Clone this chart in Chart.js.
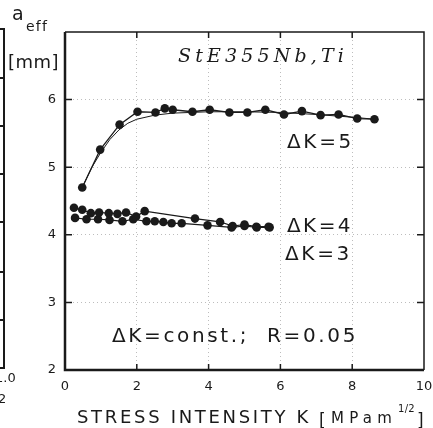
<!DOCTYPE html>
<html>
<head>
<meta charset="utf-8">
<script src="https://cdn.jsdelivr.net/npm/chart.js@4"></script>
<style>
body { margin: 0; background: #fff; }
canvas { display: block; }
</style>
</head>
<body>
<canvas id="myChart" width="433" height="428"></canvas>
<script>
/* values */
var xTicks = [0, 2, 4, 6, 8, 10];
var yTicks = [2, 3, 4, 5, 6];

// dK = 5, measured points
var k5X = [0.48, 0.98, 1.52, 2.02, 2.52, 2.78, 3.0, 3.55, 4.03, 4.58, 5.08, 5.58, 6.1, 6.6, 7.12, 7.62, 8.14, 8.62];
var k5Y = [4.70, 5.26, 5.63, 5.82, 5.81, 5.87, 5.85, 5.82, 5.85, 5.81, 5.81, 5.85, 5.78, 5.83, 5.77, 5.78, 5.72, 5.71];

// dK = 5, smooth curve drawn through them
var k5FitX = [0.48, 0.75, 1.0, 1.25, 1.5, 1.75, 2.0, 2.5, 3.0, 4.0, 5.0, 6.0, 7.0, 8.0, 8.62];
var k5FitY = [4.70, 5.00, 5.22, 5.41, 5.55, 5.65, 5.71, 5.77, 5.80, 5.82, 5.82, 5.81, 5.78, 5.74, 5.71];

// dK = 4
var k4X = [0.25, 0.48, 0.72, 0.95, 1.22, 1.46, 1.7, 1.98, 2.22, 3.62, 4.32, 4.67, 5.0, 5.33, 5.67];
var k4Y = [4.40, 4.37, 4.32, 4.33, 4.32, 4.31, 4.33, 4.27, 4.35, 4.24, 4.19, 4.13, 4.15, 4.12, 4.12];

// dK = 3
var k3X = [0.28, 0.6, 0.92, 1.24, 1.6, 1.9, 2.27, 2.5, 2.74, 2.97, 3.25, 3.97, 4.64, 5.0, 5.34, 5.7];
var k3Y = [4.25, 4.23, 4.23, 4.22, 4.20, 4.23, 4.20, 4.20, 4.19, 4.17, 4.17, 4.14, 4.11, 4.13, 4.11, 4.11];

var ink = '#1a1a1a';

/* pairs x and y lists into chart points */
function toPoints(xs, ys) {
  return xs.map(function(x, i) { return { x: x, y: ys[i] }; });
}

function dataSet(label, xs, ys, radius, width) {
  return {
    label: label,
    data: toPoints(xs, ys),
    showLine: true,
    borderColor: ink,
    backgroundColor: ink,
    borderWidth: width,
    pointRadius: radius,
    pointBorderWidth: 0,
    tension: 0
  };
}

/* draws text stretched to a given width with letter spacing */
function drawFit(ctx, text, x, y, width, font) {
  ctx.font = font;
  ctx.letterSpacing = '0px';
  var w = ctx.measureText(text).width;
  if (width && text.length > 1) {
    ctx.letterSpacing = ((width - w) / text.length) + 'px';
  }
  ctx.fillText(text, x, y);
  ctx.letterSpacing = '0px';
}

// white page behind everything
var background = {
  id: 'background',
  beforeDraw: function(chart) {
    var ctx = chart.ctx;
    ctx.save();
    ctx.fillStyle = '#fff';
    ctx.fillRect(0, 0, chart.width, chart.height);
    ctx.restore();
  }
};

// box, inward ticks, labels and the edge of the next panel
var frame = {
  id: 'frame',
  afterDraw: function(chart) {
    var ctx = chart.ctx;
    var a = chart.chartArea;
    var xs = chart.scales.x, ys = chart.scales.y;
    ctx.save();
    ctx.strokeStyle = ink;
    ctx.fillStyle = ink;

    // thin top and right
    ctx.lineWidth = 1.5;
    ctx.beginPath();
    ctx.moveTo(a.left, a.top); ctx.lineTo(a.right, a.top); ctx.lineTo(a.right, a.bottom);
    ctx.stroke();
    // heavy left and bottom
    ctx.lineWidth = 2.5;
    ctx.beginPath();
    ctx.moveTo(a.left, a.top); ctx.lineTo(a.left, a.bottom); ctx.lineTo(a.right, a.bottom);
    ctx.stroke();

    ctx.lineWidth = 1.5;
    ctx.beginPath();
    xTicks.slice(1, -1).forEach(function(v) {
      var px = xs.getPixelForValue(v);
      ctx.moveTo(px, a.bottom); ctx.lineTo(px, a.bottom - 6);
      ctx.moveTo(px, a.top); ctx.lineTo(px, a.top + 6);
    });
    yTicks.slice(1).forEach(function(v) {
      var py = ys.getPixelForValue(v);
      ctx.moveTo(a.left, py); ctx.lineTo(a.left + 7, py);
      ctx.moveTo(a.right, py); ctx.lineTo(a.right - 7, py);
    });
    ctx.stroke();

    // edge of the panel on the left
    ctx.lineWidth = 2;
    ctx.beginPath();
    ctx.moveTo(0, 29); ctx.lineTo(4, 29); ctx.lineTo(4, 368); ctx.lineTo(0, 368);
    [78, 126, 174, 222, 272, 320].forEach(function(py) {
      ctx.moveTo(0, py); ctx.lineTo(4, py);
    });
    ctx.stroke();

    ctx.textBaseline = 'alphabetic';
    ctx.textAlign = 'left';
    drawFit(ctx, '1.0', -5, 382, 0, '13px "DejaVu Sans"');
    drawFit(ctx, '2', -2, 403, 0, '13px "DejaVu Sans"');

    // axis title on y
    drawFit(ctx, 'a', 12, 20, 0, '19px "DejaVu Sans"');
    drawFit(ctx, 'eff', 26, 31, 22, '14px "DejaVu Sans"');
    drawFit(ctx, '[mm]', 8, 68, 51, '18px "DejaVu Sans"');

    // material name
    drawFit(ctx, 'StE355Nb,Ti', 178, 62, 170, 'italic 19px "DejaVu Serif"');

    // curve labels
    drawFit(ctx, '\u0394K=5', 287, 148, 67, '20px "DejaVu Sans"');
    drawFit(ctx, '\u0394K=4', 287, 232, 66, '20px "DejaVu Sans"');
    drawFit(ctx, '\u0394K=3', 285, 260, 67, '20px "DejaVu Sans"');
    drawFit(ctx, '\u0394K=const.;  R=0.05', 112, 342, 246, '20px "DejaVu Sans"');

    // axis title on x
    drawFit(ctx, 'STRESS INTENSITY K', 77, 423, 234, '18px "DejaVu Sans"');
    drawFit(ctx, '[', 319, 426, 0, '17px "DejaVu Sans"');
    drawFit(ctx, 'MPam', 331, 423, 66, '15px "DejaVu Sans"');
    drawFit(ctx, '1/2', 398, 412, 17, '10px "DejaVu Sans"');
    drawFit(ctx, ']', 417, 426, 0, '17px "DejaVu Sans"');
    ctx.restore();
  }
};

/* dotted grid on inner ticks only */
function gridColor(ticks) {
  return function(c) {
    var v = c.tick ? c.tick.value : null;
    return (v === ticks[0] || v === ticks[ticks.length - 1]) ? 'rgba(0,0,0,0)' : '#bdbdbd';
  };
}

var config = {
  type: 'scatter',
  data: {
    datasets: [
      dataSet('dK=5 fit', k5FitX, k5FitY, 0, 1),
      dataSet('dK=5', k5X, k5Y, 4.3, 1.3),
      dataSet('dK=4', k4X, k4Y, 4.3, 1.2),
      dataSet('dK=3', k3X, k3Y, 4.3, 1.2)
    ]
  },
  options: {
    responsive: false,
    animation: false,
    devicePixelRatio: 1,
    layout: { padding: { top: 32, right: 1, left: 0, bottom: 0 } },
    plugins: {
      legend: { display: false },
      tooltip: { enabled: false }
    },
    scales: {
      x: {
        type: 'linear',
        min: 0,
        max: 10,
        afterBuildTicks: function(scale) {
          scale.ticks = xTicks.map(function(v) { return { value: v }; });
        },
        afterFit: function(scale) {
          scale.height = 58;
          scale.paddingLeft = 0;
          scale.paddingRight = 9;
        },
        grid: { color: gridColor(xTicks), lineWidth: 1, drawTicks: false },
        border: { display: false, dash: [1, 3] },
        ticks: { padding: 9, color: ink, font: { family: 'DejaVu Sans', size: 13 } }
      },
      y: {
        type: 'linear',
        min: 2,
        max: 7,
        afterBuildTicks: function(scale) {
          scale.ticks = yTicks.map(function(v) { return { value: v }; });
        },
        afterFit: function(scale) { scale.width = 65; },
        grid: { color: gridColor([2, 7]), lineWidth: 1, drawTicks: false },
        border: { display: false, dash: [1, 3] },
        ticks: { padding: 9, color: ink, font: { family: 'DejaVu Sans', size: 13 } }
      }
    }
  },
  plugins: [background, frame]
};

window.onload = function() {
  var ctx = document.getElementById('myChart').getContext('2d');
  window.stressChart = new Chart(ctx, config);
};
</script>
</body>
</html>
